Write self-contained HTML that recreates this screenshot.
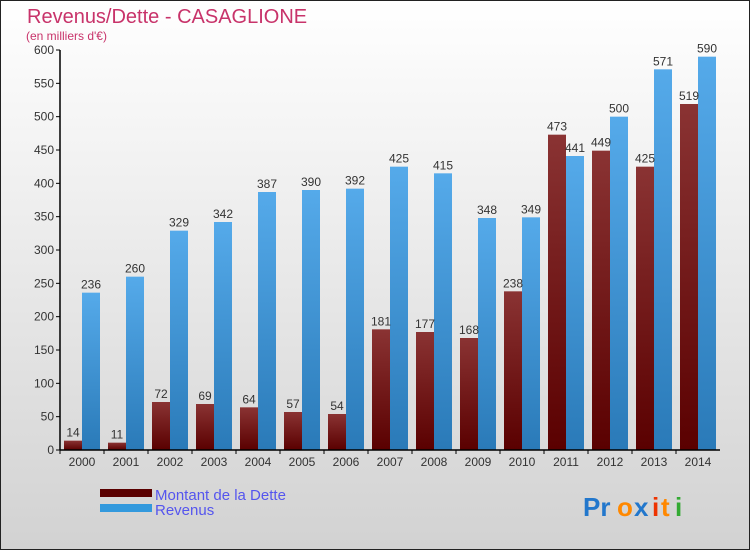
<!DOCTYPE html>
<html><head><meta charset="utf-8"><style>
body{margin:0}
svg{display:block;font-family:"Liberation Sans",sans-serif}
</style></head><body>
<svg id="c" width="750" height="550" xmlns="http://www.w3.org/2000/svg">
<defs>
<linearGradient id="bg" x1="0" y1="0" x2="0" y2="1"><stop offset="0" stop-color="#ffffff"/><stop offset="1" stop-color="#d2d2d2"/></linearGradient>
<linearGradient id="gd" x1="0" y1="0" x2="0" y2="1"><stop offset="0" stop-color="#8a3333"/><stop offset="1" stop-color="#5a0000"/></linearGradient>
<linearGradient id="gr" x1="0" y1="0" x2="0" y2="1"><stop offset="0" stop-color="#55aaea"/><stop offset="1" stop-color="#2a7ab8"/></linearGradient>
</defs>
<rect x="0.5" y="0.5" width="749" height="549" fill="url(#bg)" stroke="#222"/>
<text x="27" y="23" font-size="20" fill="#c8336a">Revenus/Dette - CASAGLIONE</text>
<text x="26" y="40" font-size="12" fill="#c8336a">(en milliers d'€)</text>
<g id="plot"></g>
<g>
<rect x="100" y="489" width="52" height="8" fill="#5a0000"/>
<text x="155" y="500" font-size="15" fill="#5555ee">Montant de la Dette</text>
<rect x="100" y="504" width="52" height="8" fill="#3399dd"/>
<text x="155" y="515" font-size="15" fill="#5555ee">Revenus</text>
</g>
<g font-size="26" font-weight="bold">
<text x="583" y="516" fill="#2277cc">Pr</text><text x="617" y="516" fill="#ff8800">o</text><text x="634" y="516" fill="#2277cc">x</text><text x="652" y="516" fill="#ee3300">i</text><text x="661" y="516" fill="#ff8800">t</text><text x="675" y="516" fill="#33aa33">i</text>
</g>
</svg>
<script>
const years=["2000","2001","2002","2003","2004","2005","2006","2007","2008","2009","2010","2011","2012","2013","2014"];
const dette=[14,11,72,69,64,57,54,181,177,168,238,473,449,425,519];
const revenus=[236,260,329,342,387,390,392,425,415,348,349,441,500,571,590];
const yTicks=[0,50,100,150,200,250,300,350,400,450,500,550,600];
const NS="http://www.w3.org/2000/svg";
const g=document.getElementById('plot');
const x0=60,x1=720,yB=450,yT=50,yMax=600;
const band=(x1-x0)/years.length;
const y=v=>yB-v/yMax*(yB-yT);
const xc=i=>x0+band*(i+0.5);
function mk(t,a){const e=document.createElementNS(NS,t);for(const k in a)e.setAttribute(k,a[k]);g.appendChild(e);return e;}
yTicks.forEach(v=>{
  const l=mk('line',{x1:x0-4,x2:x0,y1:y(v),y2:y(v),stroke:'#000'});
  
  
  const t=mk('text',{x:x0-6,y:y(v)+4,'font-size':12,'text-anchor':'end',fill:'#333'});
  t.textContent=v;
  
  
});
years.forEach((yr,i)=>{
  const c=xc(i);
  const bd=mk('rect',{x:c-18,y:y(dette[i]),width:18,height:yB-y(dette[i]),fill:'url(#gd)'});
  
  
  const br=mk('rect',{x:c,y:y(revenus[i]),width:18,height:yB-y(revenus[i]),fill:'url(#gr)'});
  
  
  const td=mk('text',{x:c-9,y:y(dette[i])-4,'font-size':12,'text-anchor':'middle',fill:'#333'});
  td.textContent=dette[i];
  
  
  const tr=mk('text',{x:c+9,y:y(revenus[i])-4,'font-size':12,'text-anchor':'middle',fill:'#333'});
  tr.textContent=revenus[i];
  
  
  const tk=mk('line',{x1:x0+band*i,x2:x0+band*i,y1:yB,y2:yB+4,stroke:'#000'});
  
  
  const xl=mk('text',{x:c,y:yB+16,'font-size':12,'text-anchor':'middle',fill:'#333'});
  xl.textContent=yr;
  
  
});
const ya=mk('line',{x1:x0,x2:x0,y1:yT,y2:yB,stroke:'#000','stroke-width':1.5});


const xa=mk('line',{x1:x0,x2:x1,y1:yB,y2:yB,stroke:'#000','stroke-width':1.5});


</script>
</body></html>
